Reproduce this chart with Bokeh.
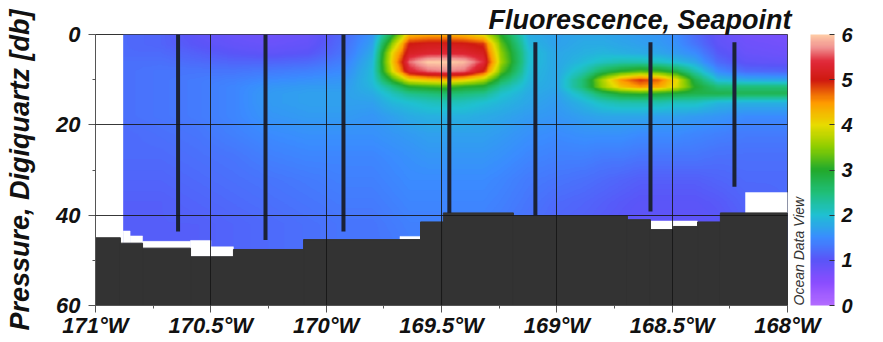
import numpy as np
from bokeh.plotting import figure
from bokeh.models import Range1d, FixedTicker, LinearColorMapper, ColorBar, LinearAxis
from bokeh.embed import file_html
from bokeh.resources import INLINE

# ---------------- data ----------------
# gridded section nodes (longitude in deg E, negative = West)
grid_lon = [-170.88, -170.72, -170.56, -170.40, -170.24, -170.08, -169.92, -169.80, -169.72,
            -169.64, -169.56, -169.48, -169.40, -169.32, -169.24, -169.12, -169.00, -168.88,
            -168.80, -168.72, -168.64, -168.56, -168.48, -168.40, -168.30, -168.18, -168.00]
grid_depth = [0, 2, 4, 6, 8, 10, 11.5, 13, 15, 18, 22, 27, 32, 37, 42, 50]

# fluorescence profile at each grid longitude (values over grid_depth)
fluor_profiles = [
    [1.2, 1.2, 1.2, 1.25, 1.25, 1.25, 1.25, 1.25, 1.25, 1.25, 1.2, 1.2, 1.15, 1.1, 1.1, 1.1],
    [1.15, 1.15, 1.2, 1.25, 1.3, 1.3, 1.3, 1.3, 1.3, 1.3, 1.25, 1.2, 1.15, 1.1, 1.1, 1.1],
    [0.95, 1.0, 1.1, 1.2, 1.3, 1.35, 1.35, 1.35, 1.35, 1.35, 1.3, 1.25, 1.2, 1.15, 1.1, 1.1],
    [0.85, 0.9, 1.0, 1.15, 1.3, 1.4, 1.45, 1.45, 1.45, 1.45, 1.4, 1.3, 1.25, 1.2, 1.15, 1.15],
    [0.8, 0.85, 0.95, 1.15, 1.35, 1.5, 1.6, 1.65, 1.65, 1.6, 1.5, 1.4, 1.3, 1.25, 1.2, 1.2],
    [0.85, 0.9, 1.0, 1.2, 1.4, 1.55, 1.65, 1.7, 1.7, 1.65, 1.55, 1.45, 1.35, 1.3, 1.25, 1.25],
    [1.2, 1.25, 1.3, 1.4, 1.5, 1.6, 1.65, 1.7, 1.7, 1.65, 1.55, 1.45, 1.4, 1.35, 1.3, 1.3],
    [1.6, 1.7, 1.8, 1.9, 1.95, 1.95, 1.9, 1.8, 1.7, 1.6, 1.55, 1.45, 1.4, 1.35, 1.3, 1.3],
    [2.8, 3.4, 3.9, 4.0, 3.8, 3.0, 2.4, 2.1, 1.9, 1.7, 1.6, 1.5, 1.45, 1.4, 1.35, 1.3],
    [4.3, 5.0, 5.2, 5.6, 5.3, 4.0, 3.0, 2.4, 2.0, 1.8, 1.65, 1.55, 1.5, 1.45, 1.4, 1.35],
    [4.4, 5.1, 5.3, 6.0, 5.6, 4.2, 3.1, 2.5, 2.1, 1.85, 1.7, 1.6, 1.5, 1.45, 1.4, 1.4],
    [4.4, 5.1, 5.35, 6.0, 5.7, 4.3, 3.2, 2.6, 2.15, 1.85, 1.7, 1.6, 1.5, 1.45, 1.4, 1.4],
    [4.3, 5.05, 5.3, 5.9, 5.6, 4.1, 3.0, 2.5, 2.1, 1.85, 1.7, 1.6, 1.5, 1.45, 1.4, 1.4],
    [4.0, 4.9, 5.15, 5.4, 5.0, 3.7, 2.9, 2.4, 2.0, 1.8, 1.7, 1.6, 1.5, 1.45, 1.4, 1.4],
    [3.0, 3.3, 3.5, 3.6, 3.3, 2.7, 2.3, 2.05, 1.9, 1.75, 1.65, 1.55, 1.45, 1.4, 1.35, 1.35],
    [1.8, 1.9, 2.0, 2.0, 1.95, 1.9, 1.85, 1.8, 1.75, 1.65, 1.55, 1.45, 1.35, 1.3, 1.25, 1.25],
    [1.7, 1.7, 1.75, 1.75, 1.75, 1.75, 1.75, 1.7, 1.65, 1.6, 1.5, 1.4, 1.3, 1.2, 1.15, 1.15],
    [1.75, 1.8, 1.85, 1.95, 2.2, 2.6, 2.6, 2.2, 1.9, 1.7, 1.55, 1.4, 1.25, 1.15, 1.1, 1.1],
    [1.75, 1.8, 1.9, 2.1, 2.7, 3.7, 3.6, 2.7, 2.1, 1.75, 1.55, 1.35, 1.2, 1.1, 1.05, 1.05],
    [1.7, 1.75, 1.85, 2.2, 3.0, 4.5, 4.2, 3.0, 2.2, 1.75, 1.55, 1.35, 1.15, 1.05, 1.0, 1.0],
    [1.65, 1.7, 1.8, 2.2, 3.2, 4.9, 4.5, 3.1, 2.2, 1.75, 1.5, 1.3, 1.1, 1.0, 0.95, 0.95],
    [1.6, 1.65, 1.75, 2.1, 3.1, 4.7, 4.4, 3.0, 2.2, 1.7, 1.5, 1.3, 1.1, 1.0, 0.95, 0.95],
    [1.5, 1.55, 1.65, 1.95, 2.8, 4.0, 3.9, 2.9, 2.1, 1.7, 1.5, 1.3, 1.1, 1.0, 0.95, 0.95],
    [1.2, 1.3, 1.5, 1.75, 2.2, 2.8, 3.0, 2.8, 2.1, 1.65, 1.45, 1.3, 1.1, 1.0, 0.95, 0.95],
    [0.9, 0.95, 1.05, 1.2, 1.5, 1.95, 2.5, 2.8, 1.9, 1.6, 1.4, 1.25, 1.15, 1.05, 1.0, 1.0],
    [0.75, 0.8, 0.85, 0.95, 1.2, 1.8, 2.5, 2.75, 1.85, 1.5, 1.35, 1.25, 1.2, 1.15, 1.1, 1.1],
    [0.7, 0.75, 0.8, 0.9, 1.15, 1.75, 2.5, 2.75, 1.85, 1.5, 1.35, 1.25, 1.2, 1.2, 1.2, 1.2],
]

# CTD stations (casts)
station_lon = [-170.642, -170.263, -169.925, -169.466, -169.093, -168.594, -168.230]
station_top = [0.0, 0.0, 0.0, 0.0, 1.7, 1.7, 1.7]
station_bottom = [43.6, 45.5, 43.6, 39.5, 40.0, 39.2, 33.7]

# bathymetry steps
floor_left = [-171.0, -170.892, -170.796, -170.588, -170.402, -170.098, -169.591, -169.492,
              -169.188, -168.694, -168.594, -168.495, -168.390, -168.291]
floor_right = [-170.892, -170.796, -170.588, -170.402, -170.098, -169.591, -169.492, -169.188,
               -168.694, -168.594, -168.495, -168.390, -168.291, -168.0]
floor_depth = [45.0, 46.2, 47.3, 49.2, 47.6, 45.4, 41.5, 39.5, 40.2, 41.0, 43.2, 42.5, 41.5, 39.5]

# blank (no data) gaps above the bottom
gap_left = [-170.88, -170.85, -170.796, -170.588, -170.50, -169.68, -168.600, -168.495, -168.182]
gap_right = [-170.85, -170.796, -170.588, -170.50, -170.402, -169.591, -168.495, -168.390, -168.0]
gap_top = [43.5, 44.6, 45.8, 45.6, 47.0, 44.7, 41.3, 41.3, 35.0]
gap_bottom = [46.2, 46.2, 47.3, 49.2, 49.2, 45.4, 43.2, 42.5, 39.5]

x_ticks = [-171.0, -170.5, -170.0, -169.5, -169.0, -168.5, -168.0]
x_tick_labels = ["171°W", "170.5°W", "170°W", "169.5°W", "169°W", "168.5°W", "168°W"]
x_minor = [-170.75, -170.25, -169.75, -169.25, -168.75, -168.25]
y_ticks = [0, 20, 40, 60]
y_minor = [10, 30, 50]
cbar_ticks = [0, 1, 2, 3, 4, 5, 6]
credit_text = "Ocean Data View"

# ---------------- colour palette (ODV default-like) ----------------
anchors = [(0.0, "#b36bff"), (0.5, "#8a4dff"), (1.0, "#5a55f8"), (1.5, "#3a8cff"),
           (2.0, "#1fc0d2"), (2.5, "#1fbf78"), (3.0, "#22aa2c"), (3.5, "#8ccd00"),
           (4.0, "#e8dc00"), (4.5, "#ff9a00"), (5.0, "#d01a10"), (5.4, "#e02838"),
           (5.72, "#f09090"), (6.0, "#ffcca6")]


def _rgb(h):
    return [int(h[i:i + 2], 16) for i in (1, 3, 5)]


av = np.array([a[0] for a in anchors])
ac = np.array([_rgb(a[1]) for a in anchors], dtype=float)
levels = np.linspace(0, 6, 256)
palette = []
for lv in levels:
    c = [int(round(np.interp(lv, av, ac[:, k]))) for k in range(3)]
    palette.append("#%02x%02x%02x" % tuple(c))

mapper = LinearColorMapper(palette=palette, low=0, high=6)

# ---------------- render field ----------------
lon_arr = np.array(grid_lon)
dep_arr = np.array(grid_depth, dtype=float)
F = np.array(fluor_profiles, dtype=float).T  # (depth, lon)
nx, ny = 720, 300
xs = np.linspace(lon_arr[0], lon_arr[-1], nx)
ys = np.linspace(dep_arr[0], dep_arr[-1], ny)
tmp = np.array([np.interp(xs, lon_arr, row) for row in F])
img = np.array([np.interp(ys, dep_arr, tmp[:, j]) for j in range(nx)]).T

FONT = "Liberation Sans"

p = figure(width=880, height=340, output_backend="svg", toolbar_location=None,
           title="Fluorescence, Seapoint",
           x_range=Range1d(-171, -168), y_range=Range1d(60, 0),
           min_border_left=95, min_border_right=93, min_border_top=34, min_border_bottom=34)
p.background_fill_color = "white"
p.border_fill_color = "white"
p.outline_line_color = "#333333"
p.outline_line_width = 1

p.title.align = "right"
p.title.offset = -4
p.title.standoff = 0
p.title.text_font = FONT
p.title.text_font_style = "bold italic"
p.title.text_font_size = "27px"
p.title.text_color = "#111111"

p.image(image=[img], x=lon_arr[0], y=0, dw=lon_arr[-1] - lon_arr[0], dh=dep_arr[-1],
        color_mapper=mapper)
p.quad(left=gap_left, right=gap_right, top=gap_top, bottom=gap_bottom,
       fill_color="white", line_color="white", line_width=0.5)
p.quad(left=floor_left, right=floor_right, top=floor_depth, bottom=[60] * len(floor_depth),
       fill_color="#333333", line_color="#333333", line_width=1)
p.segment(x0=station_lon, y0=station_top, x1=station_lon, y1=station_bottom,
          line_color="#1b2236", line_width=4)

# grid on top
for g, tk in ((p.xgrid, x_ticks), (p.ygrid, y_ticks)):
    g.ticker = FixedTicker(ticks=tk)
    g.grid_line_color = "#151515"
    g.grid_line_alpha = 0.85
    g.grid_line_width = 1
    g.level = "overlay"

p.xaxis.ticker = FixedTicker(ticks=x_ticks, minor_ticks=x_minor)
p.xaxis.major_label_overrides = dict(zip(x_ticks, x_tick_labels))
p.yaxis.ticker = FixedTicker(ticks=y_ticks, minor_ticks=y_minor)
for ax in (p.xaxis[0], p.yaxis[0]):
    ax.axis_line_color = "#555555"
    ax.major_tick_line_color = "#555555"
    ax.minor_tick_line_color = "#555555"
    ax.major_tick_out = 7
    ax.major_tick_in = 0
    ax.minor_tick_out = 3
    ax.minor_tick_in = 0
    ax.major_label_text_font = FONT
    ax.major_label_text_font_style = "bold italic"
    ax.major_label_text_font_size = "22px"
    ax.major_label_text_color = "#111111"
p.xaxis.major_label_standoff = 0
p.yaxis.major_label_standoff = 8
p.yaxis.axis_label = "Pressure, Digiquartz [db]"
p.yaxis.axis_label_text_font = FONT
p.yaxis.axis_label_text_font_style = "bold italic"
p.yaxis.axis_label_text_font_size = "27px"
p.yaxis.axis_label_text_color = "#111111"
p.yaxis.axis_label_standoff = 18

# "Ocean Data View" credit: a rotated label on a tick-less right axis beside the colour bar
odv_axis = LinearAxis(ticker=FixedTicker(ticks=[60]),
                      major_label_overrides={60: credit_text},
                      major_label_orientation=np.pi / 2, major_label_standoff=11,
                      major_label_text_font=FONT, major_label_text_font_style="italic",
                      major_label_text_font_size="14px", major_label_text_color="#333333",
                      axis_line_color=None, major_tick_line_color=None,
                      minor_tick_line_color=None, major_tick_out=0, major_tick_in=0,
                      minor_tick_out=0, minor_tick_in=0)
p.add_layout(odv_axis, "right")

cbar = ColorBar(color_mapper=mapper, ticker=FixedTicker(ticks=cbar_ticks), width=24,
                padding=0, margin=0, location=(-7, 0),
                major_label_text_font=FONT, major_label_text_font_style="bold italic",
                major_label_text_font_size="20px", major_label_text_color="#111111",
                major_tick_line_color="#333333", major_tick_in=5, major_tick_out=0,
                minor_tick_line_color=None, bar_line_color=None, label_standoff=7,
                background_fill_color=None, border_line_color=None)
p.add_layout(cbar, "right")

open("out.html", "w").write(file_html(p, INLINE))
